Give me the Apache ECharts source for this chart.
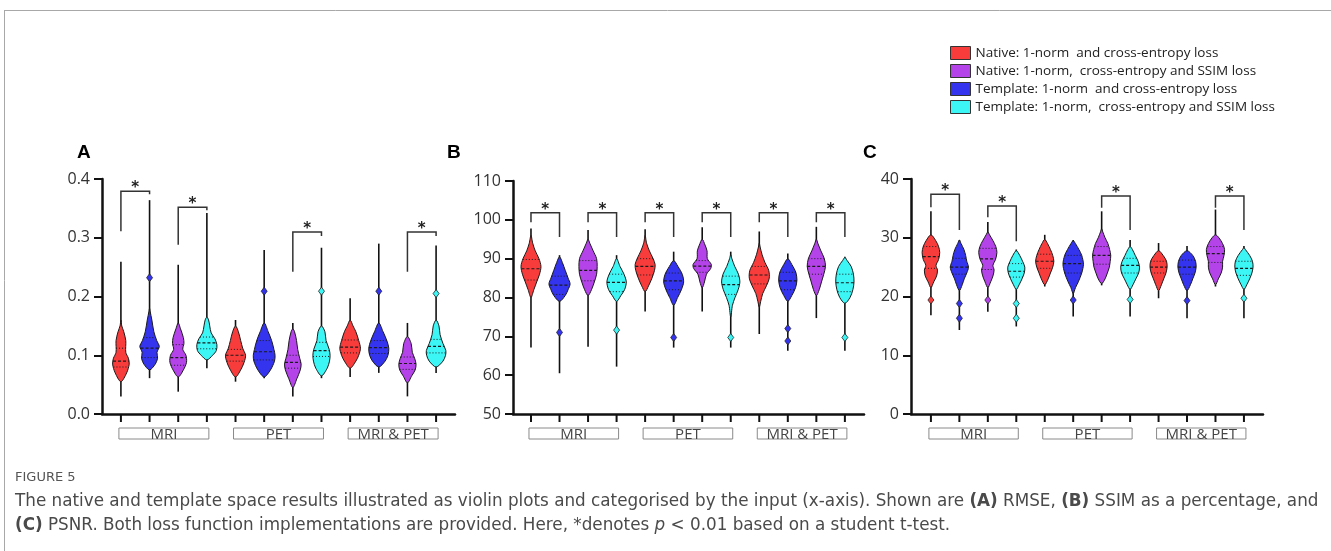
<!DOCTYPE html>
<html lang="en">
<head>
<meta charset="UTF-8">
<title>Figure 5 violin plots</title>
<style>
  html, body { margin: 0; padding: 0; background: #fff; }
  #main { width: 1331px; height: 551px; }
</style>
</head>
<body>
<div id="main"></div>
<script src="https://cdn.jsdelivr.net/npm/echarts@6/dist/echarts.min.js"></script>
<script>
// legend order
const methods = [
  'Native: 1-norm  and cross-entropy loss',
  'Native: 1-norm,  cross-entropy and SSIM loss',
  'Template: 1-norm  and cross-entropy loss',
  'Template: 1-norm,  cross-entropy and SSIM loss'
];
const colors = ['#f83c3c', '#b444ea', '#3434ee', '#3cf6f6'];
// position of each method inside a group of four violins
const slots = [0, 2, 1, 3];
const groups = ['MRI', 'PET', 'MRI & PET'];
const groupSpans = [[0, 3], [4, 7], [8, 11]];

// (A) RMSE, violins in x order
const rmseMin = [0.03, 0.061, 0.038, 0.078, 0.055, 0.061, 0.03, 0.061, 0.063, 0.07, 0.03, 0.07];
const rmseMax = [0.259, 0.364, 0.254, 0.342, 0.16, 0.279, 0.155, 0.283, 0.197, 0.29, 0.155, 0.287];
const rmseMedian = [0.09, 0.112, 0.096, 0.121, 0.1, 0.106, 0.088, 0.108, 0.114, 0.113, 0.086, 0.115];
const rmseQ1 = [0.08, 0.096, 0.083, 0.111, 0.09, 0.092, 0.078, 0.098, 0.104, 0.103, 0.076, 0.104];
const rmseQ3 = [0.112, 0.13, 0.118, 0.131, 0.11, 0.125, 0.1, 0.122, 0.126, 0.125, 0.097, 0.127];
const rmseShape = [
  [[0.055, 0], [0.07, 0.2], [0.085, 0.29], [0.095, 0.26], [0.105, 0.17], [0.125, 0.17], [0.14, 0.1], [0.15, 0.03], [0.16, 0]],
  [[0.075, 0], [0.085, 0.2], [0.095, 0.28], [0.105, 0.26], [0.115, 0.34], [0.125, 0.25], [0.14, 0.15], [0.16, 0.08], [0.175, 0.02], [0.18, 0]],
  [[0.063, 0], [0.075, 0.18], [0.088, 0.29], [0.1, 0.27], [0.11, 0.16], [0.12, 0.2], [0.13, 0.18], [0.145, 0.08], [0.155, 0]],
  [[0.092, 0], [0.1, 0.2], [0.108, 0.33], [0.118, 0.35], [0.128, 0.28], [0.138, 0.15], [0.15, 0.1], [0.16, 0.06], [0.165, 0]],
  [[0.063, 0], [0.075, 0.18], [0.088, 0.3], [0.1, 0.35], [0.112, 0.25], [0.125, 0.18], [0.14, 0.1], [0.15, 0]],
  [[0.063, 0], [0.075, 0.22], [0.09, 0.36], [0.1, 0.38], [0.11, 0.34], [0.125, 0.26], [0.14, 0.14], [0.155, 0]],
  [[0.045, 0], [0.06, 0.14], [0.075, 0.26], [0.085, 0.29], [0.095, 0.24], [0.11, 0.17], [0.125, 0.13], [0.14, 0.06], [0.145, 0]],
  [[0.065, 0], [0.078, 0.2], [0.09, 0.28], [0.1, 0.3], [0.11, 0.27], [0.125, 0.16], [0.14, 0.12], [0.15, 0]],
  [[0.078, 0], [0.09, 0.2], [0.1, 0.3], [0.112, 0.36], [0.125, 0.3], [0.14, 0.2], [0.15, 0.1], [0.16, 0]],
  [[0.08, 0], [0.09, 0.22], [0.1, 0.32], [0.112, 0.35], [0.125, 0.28], [0.14, 0.15], [0.155, 0]],
  [[0.053, 0], [0.065, 0.15], [0.075, 0.27], [0.085, 0.3], [0.095, 0.25], [0.105, 0.17], [0.12, 0.13], [0.132, 0]],
  [[0.08, 0], [0.09, 0.24], [0.1, 0.33], [0.108, 0.34], [0.12, 0.24], [0.135, 0.14], [0.15, 0.1], [0.16, 0]]
];
const rmseOutliers = [[1, 0.232], [5, 0.209], [7, 0.209], [9, 0.209], [11, 0.205]];
// [left violin, right violin, top, left leg end, right leg end]
const rmseBrackets = [[0, 1, 0.379, 0.311, 0.374], [2, 3, 0.352, 0.288, 0.347], [6, 7, 0.31, 0.242, 0.303], [10, 11, 0.31, 0.242, 0.303]];

// (B) SSIM %
const ssimMin = [67.1, 60.5, 67.3, 62.2, 76.4, 67.1, 76.4, 67.1, 70.6, 66.3, 74.7, 66.3];
const ssimMax = [97.8, 90.9, 97.4, 90.9, 97.6, 91.8, 98.1, 91.8, 97, 91.3, 98.2, 90.5];
const ssimMedian = [87.4, 83.2, 87, 83.9, 88, 84.3, 88.1, 83.3, 85.8, 84.3, 88, 83.8];
const ssimQ1 = [84.5, 80.8, 84.3, 81.5, 85.8, 82, 86.5, 80.8, 83.5, 82, 86, 81.5];
const ssimQ3 = [89.8, 85.5, 89.5, 86, 90, 86.3, 89.5, 85.5, 88, 86.5, 90, 86];
const ssimShape = [
  [[80, 0], [82, 0.1], [84, 0.2], [86, 0.3], [88, 0.35], [90, 0.28], [92, 0.15], [94, 0.06], [96, 0]],
  [[79, 0], [80.5, 0.2], [82, 0.3], [83.5, 0.37], [85, 0.3], [87, 0.2], [89, 0.1], [90.5, 0]],
  [[80.5, 0], [82, 0.12], [84, 0.22], [86, 0.3], [88, 0.32], [90, 0.3], [92, 0.18], [94, 0.06], [95, 0]],
  [[79, 0], [80.5, 0.15], [82, 0.28], [84, 0.34], [86, 0.26], [88, 0.12], [90, 0]],
  [[81.5, 0], [83, 0.12], [85, 0.24], [87, 0.33], [88.5, 0.35], [90, 0.28], [92, 0.15], [94, 0.05], [96, 0]],
  [[78, 0], [80, 0.14], [82, 0.27], [84, 0.35], [86, 0.3], [88, 0.15], [89.5, 0]],
  [[82.5, 0], [84, 0.08], [86, 0.15], [87.5, 0.3], [88.5, 0.32], [90, 0.18], [92, 0.17], [93.5, 0.1], [95, 0]],
  [[75, 0], [78, 0.06], [80, 0.15], [82, 0.26], [84, 0.32], [86, 0.27], [88, 0.14], [90, 0.04], [91, 0]],
  [[77.5, 0], [79, 0.05], [81, 0.12], [83, 0.25], [85, 0.35], [87, 0.33], [89, 0.2], [91, 0.1], [93, 0.03], [94, 0]],
  [[79, 0], [80.5, 0.14], [82.5, 0.27], [84.5, 0.32], [86.5, 0.28], [88.5, 0.14], [90, 0]],
  [[80.5, 0], [82, 0.1], [84, 0.18], [86, 0.26], [88, 0.32], [90, 0.28], [92, 0.16], [94, 0.05], [95, 0]],
  [[78.5, 0], [80, 0.18], [82, 0.28], [84, 0.32], [86, 0.3], [88, 0.22], [89.5, 0.08], [90.3, 0]]
];
const ssimOutliers = [[1, 71], [3, 71.6], [5, 69.7], [7, 69.7], [9, 72], [9, 68.8], [11, 69.7]];
const ssimBrackets = [[0, 1, 101.8, 99.4, 95.6], [2, 3, 101.8, 99.4, 95.6], [4, 5, 101.8, 99.4, 95.6], [6, 7, 101.8, 99.4, 95.6], [8, 9, 101.8, 99.4, 95.6], [10, 11, 101.8, 99.4, 95.6]];

// (C) PSNR
const psnrMin = [16.8, 14.3, 17.4, 14.9, 21.7, 16.6, 21.9, 16.6, 19.7, 16.3, 21.7, 16.3];
const psnrMax = [34.5, 29.6, 32.7, 28, 30.5, 29.6, 34.5, 29.6, 29.1, 28.6, 34.8, 28.6];
const psnrMedian = [26.8, 25, 26.4, 24.3, 26, 25.6, 27, 25.3, 25, 25, 27.3, 24.8];
const psnrQ1 = [24.8, 23.8, 24.6, 23.3, 24.8, 24, 25.5, 24, 24, 23.8, 25.8, 23.6];
const psnrQ3 = [28.5, 26.5, 28.2, 25.6, 27.2, 27, 28.5, 26.5, 26, 26.2, 28.5, 26];
const psnrShape = [
  [[21.5, 0], [22.5, 0.1], [23.5, 0.2], [24.5, 0.23], [25.3, 0.18], [26.3, 0.27], [27.5, 0.31], [28.5, 0.27], [29.5, 0.17], [30.5, 0]],
  [[21, 0], [22, 0.1], [23, 0.17], [24, 0.26], [25, 0.32], [26, 0.26], [27, 0.22], [28, 0.16], [29, 0.06], [29.6, 0]],
  [[21.5, 0], [22.5, 0.1], [23.5, 0.18], [24.5, 0.22], [25.3, 0.18], [26.3, 0.27], [27.5, 0.32], [28.5, 0.28], [29.5, 0.18], [30.5, 0.06], [31, 0]],
  [[21.2, 0], [22, 0.1], [23, 0.2], [24, 0.28], [25, 0.3], [26, 0.22], [27, 0.12], [27.8, 0]],
  [[22, 0], [23, 0.12], [24, 0.2], [25, 0.28], [26, 0.32], [27, 0.28], [28, 0.2], [29, 0.1], [29.7, 0]],
  [[20.5, 0], [21.5, 0.08], [22.5, 0.18], [24, 0.3], [25.5, 0.36], [27, 0.3], [28, 0.2], [29, 0.08], [29.5, 0]],
  [[22.2, 0], [23, 0.12], [24, 0.2], [25, 0.27], [26, 0.3], [27, 0.32], [28, 0.28], [29, 0.22], [30, 0.12], [31, 0.04], [31.5, 0]],
  [[21.2, 0], [22, 0.1], [23, 0.2], [24, 0.3], [25, 0.33], [26, 0.28], [27, 0.18], [28, 0.08], [28.5, 0]],
  [[21, 0], [22, 0.1], [23, 0.18], [24, 0.26], [25, 0.3], [26, 0.28], [27, 0.16], [27.8, 0]],
  [[21, 0], [22, 0.12], [23, 0.2], [24, 0.28], [25, 0.32], [26, 0.3], [27, 0.2], [27.8, 0]],
  [[22, 0], [23, 0.1], [24, 0.2], [25, 0.25], [26, 0.25], [27, 0.3], [28, 0.32], [29, 0.25], [30, 0.12], [30.5, 0]],
  [[21.2, 0], [22, 0.1], [23, 0.2], [24, 0.28], [25, 0.32], [26, 0.3], [27, 0.2], [28, 0.05], [28.3, 0]]
];
const psnrOutliers = [[0, 19.4], [1, 18.8], [1, 16.3], [2, 19.4], [3, 18.8], [3, 16.3], [5, 19.4], [7, 19.5], [9, 19.3], [11, 19.7]];
const psnrBrackets = [[0, 1, 37.4, 35.2, 31.3], [2, 3, 35.4, 33.5, 29.4], [6, 7, 37.1, 35.1, 31.3], [10, 11, 37.1, 35.1, 31.3]];

const panels = [
  { letter: 'A', min: rmseMin, max: rmseMax, median: rmseMedian, q1: rmseQ1, q3: rmseQ3, shape: rmseShape, outliers: rmseOutliers, brackets: rmseBrackets,
    grid: { left: 102, top: 179, width: 353, height: 235 }, x: [-0.66, 11.66], y: [0, 0.4, 0.1], fmt: v => v.toFixed(1), letterX: 77 },
  { letter: 'B', min: ssimMin, max: ssimMax, median: ssimMedian, q1: ssimQ1, q3: ssimQ3, shape: ssimShape, outliers: ssimOutliers, brackets: ssimBrackets,
    grid: { left: 513, top: 181, width: 351, height: 233 }, x: [-0.63, 11.67], y: [50, 110, 10], fmt: v => v, letterX: 447 },
  { letter: 'C', min: psnrMin, max: psnrMax, median: psnrMedian, q1: psnrQ1, q3: psnrQ3, shape: psnrShape, outliers: psnrOutliers, brackets: psnrBrackets,
    grid: { left: 911, top: 179, width: 352, height: 235 }, x: [-0.70, 11.67], y: [0, 40, 10], fmt: v => v, letterX: 863 }
];

const FONT = 'Open Sans';
const CAP = 'DejaVu Sans';

function hwAt(shape, v) {
  for (let k = 0; k < shape.length - 1; k++) {
    const a = shape[k], b = shape[k + 1];
    if (v >= a[0] && v <= b[0]) return a[1] + (b[1] - a[1]) * (v - a[0]) / (b[0] - a[0]);
  }
  return 0;
}

function violinRenderer(p, color) {
  return function (params, api) {
    const i = api.value(0);
    const shape = p.shape[i];
    const right = shape.map(s => api.coord([i + s[1], s[0]]));
    const left = shape.slice(1, -1).reverse().map(s => api.coord([i - s[1], s[0]]));
    const lo = api.coord([i, p.min[i]]);
    const hi = api.coord([i, p.max[i]]);
    const hline = (v, dash, w) => {
      const hw = hwAt(shape, v);
      const a = api.coord([i - hw, v]), b = api.coord([i + hw, v]);
      return { type: 'line', shape: { x1: a[0], y1: a[1], x2: b[0], y2: b[1] }, style: { stroke: '#1a1a1a', lineWidth: w, lineDash: dash } };
    };
    const children = [
      { type: 'line', shape: { x1: lo[0], y1: lo[1], x2: hi[0], y2: hi[1] }, style: { stroke: '#111', lineWidth: 1.6 } },
      { type: 'polygon', shape: { points: right.concat(left), smooth: 0.3 }, style: { fill: color, stroke: '#1a1a1a', lineWidth: 1 } },
      hline(p.q1[i], [1, 2], 1),
      hline(p.q3[i], [1, 2], 1),
      hline(p.median[i], [3, 2], 1.2)
    ];
    p.outliers.filter(o => o[0] === i).forEach(o => {
      const c = api.coord([i, o[1]]);
      children.push({ type: 'polygon', shape: { points: [[c[0], c[1] - 4], [c[0] + 3, c[1]], [c[0], c[1] + 4], [c[0] - 3, c[1]]] },
        style: { fill: color, stroke: '#222', lineWidth: 0.8 } });
    });
    return { type: 'group', children };
  };
}

function groupRenderer(p) {
  return function (params, api) {
    const a = api.value(0), b = api.value(1);
    const base = api.coord([a, p.y[0]])[1];
    const children = [];
    for (let k = a; k <= b; k++) {
      const c = api.coord([k, p.y[0]]);
      children.push({ type: 'line', shape: { x1: c[0], y1: base, x2: c[0], y2: base + 8 }, style: { stroke: '#111', lineWidth: 2 } });
    }
    const x1 = api.coord([a, p.y[0]])[0] - 2, x2 = api.coord([b, p.y[0]])[0] + 2;
    children.push({ type: 'rect', shape: { x: x1, y: base + 14, width: x2 - x1, height: 11 }, style: { fill: '#fff', stroke: '#8a8a8a', lineWidth: 1 } });
    children.push({ type: 'text', style: { text: groups[params.dataIndex], x: (x1 + x2) / 2, y: base + 28, align: 'center', verticalAlign: 'bottom',
      font: '15px "' + FONT + '"', fill: '#444' } });
    return { type: 'group', children };
  };
}

function bracketRenderer(params, api) {
  const l = api.value(0), r = api.value(1);
  const p1 = api.coord([l, api.value(3)]), p2 = api.coord([l, api.value(2)]);
  const p3 = api.coord([r, api.value(2)]), p4 = api.coord([r, api.value(4)]);
  return { type: 'group', children: [
    { type: 'polyline', shape: { points: [p1, p2, p3, p4] }, style: { stroke: '#333', lineWidth: 1.5, fill: null } },
    { type: 'text', style: { text: '*', x: (p2[0] + p3[0]) / 2, y: p2[1] - 3, align: 'center', verticalAlign: 'middle',
      font: 'bold 15px "DejaVu Sans"', fill: '#222' } }
  ] };
}

const grid = [], xAxis = [], yAxis = [], series = [], graphic = [];
panels.forEach((p, pi) => {
  grid.push(p.grid);
  xAxis.push({ type: 'value', gridIndex: pi, min: p.x[0], max: p.x[1],
    axisLine: { show: true, onZero: false, lineStyle: { color: '#111', width: 2.5 } },
    axisTick: { show: false }, axisLabel: { show: false }, splitLine: { show: false } });
  yAxis.push({ type: 'value', gridIndex: pi, min: p.y[0], max: p.y[1], interval: p.y[2],
    axisLine: { show: true, onZero: false, lineStyle: { color: '#111', width: 2.5 } },
    axisTick: { show: true, length: 8, lineStyle: { color: '#111', width: 2 } },
    axisLabel: { margin: 12, fontSize: 16, fontFamily: FONT, color: '#333', formatter: p.fmt },
    splitLine: { show: false } });
  methods.forEach((m, mi) => {
    series.push({ type: 'custom', name: m, xAxisIndex: pi, yAxisIndex: pi, itemStyle: { color: colors[mi] },
      renderItem: violinRenderer(p, colors[mi]), encode: { x: 0, y: 1 },
      data: groups.map((g, gi) => [gi * 4 + slots[mi], p.median[gi * 4 + slots[mi]]]) });
  });
  series.push({ type: 'custom', xAxisIndex: pi, yAxisIndex: pi, renderItem: groupRenderer(p), encode: { x: 0, y: 2 },
    data: groupSpans.map(s => [s[0], s[1], p.y[0]]), silent: true });
  series.push({ type: 'custom', xAxisIndex: pi, yAxisIndex: pi, renderItem: bracketRenderer, encode: { x: 0, y: 2 },
    data: p.brackets, silent: true, z: 3 });
  graphic.push({ type: 'text', left: p.letterX, top: 143, style: { text: p.letter, font: 'bold 19px "Liberation Sans"', fill: '#000' } });
});

// frame and caption
graphic.push({ type: 'line', shape: { x1: 4, y1: 10.5, x2: 1331, y2: 10.5 }, style: { stroke: '#a8a8a8', lineWidth: 1 } });
graphic.push({ type: 'line', shape: { x1: 4.5, y1: 10, x2: 4.5, y2: 551 }, style: { stroke: '#a8a8a8', lineWidth: 1 } });
graphic.push({ type: 'text', left: 15, top: 471, style: { text: 'FIGURE 5', font: '13px "' + CAP + '"', fill: '#555' } });
const CS = 16.8;
const capRich = {
  n: { fontFamily: CAP, fontSize: CS, color: '#4a4a4a' },
  b: { fontFamily: CAP, fontSize: CS, fontWeight: 'bold', color: '#4a4a4a' },
  i: { fontFamily: CAP, fontSize: CS, fontStyle: 'italic', color: '#4a4a4a' }
};
graphic.push({ type: 'text', left: 15, top: 493, style: {
  text: '{n|The native and template space results illustrated as violin plots and categorised by the input (x-axis). Shown are }{b|(A)}{n| RMSE, }{b|(B)}{n| SSIM as a percentage, and}',
  rich: capRich, font: CS + 'px "' + CAP + '"', fill: '#4a4a4a' } });
graphic.push({ type: 'text', left: 15, top: 517, style: {
  text: '{b|(C)}{n| PSNR. Both loss function implementations are provided. Here, *denotes }{i|p}{n| < 0.01 based on a student t-test.}',
  rich: capRich, font: CS + 'px "' + CAP + '"', fill: '#4a4a4a' } });

const myChart = echarts.init(document.getElementById('main'));
myChart.setOption({
  animation: false,
  legend: {
    orient: 'vertical', left: 945, top: 41, itemWidth: 20, itemHeight: 13, itemGap: 4, selectedMode: false,
    icon: 'rect', data: methods,
    itemStyle: { borderColor: '#333', borderWidth: 1 },
    textStyle: { fontFamily: FONT, fontSize: 13.5, color: '#222' }
  },
  grid, xAxis, yAxis, series, graphic
});
</script>
</body>
</html>
